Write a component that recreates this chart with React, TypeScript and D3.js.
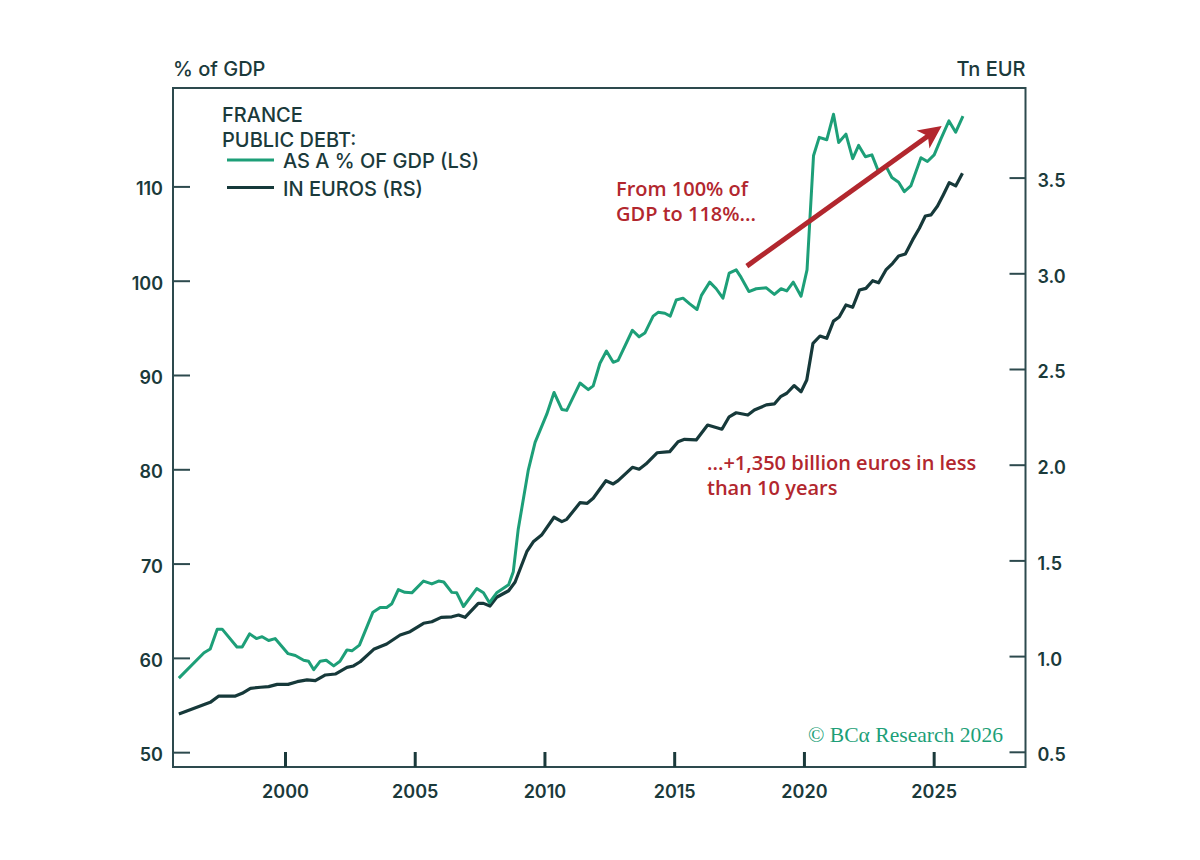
import React from "react";
import * as d3 from "d3";

const xTickYears = [2000, 2005, 2010, 2015, 2020, 2025];
const leftTicks = [50, 60, 70, 80, 90, 100, 110];
const rightTicks = [0.5, 1.0, 1.5, 2.0, 2.5, 3.0, 3.5];

// Public debt as % of GDP (left scale): [decimal year, value]
const debtPctGdp: [number, number][] = [
  [1995.89, 57.9], [1996.86, 60.6], [1997.1, 61.0], [1997.37, 63.1], [1997.56, 63.1],
  [1998.13, 61.2], [1998.33, 61.2], [1998.62, 62.6], [1998.88, 62.1], [1999.1, 62.3],
  [1999.35, 61.9], [1999.6, 62.1], [2000.1, 60.5], [2000.38, 60.3], [2000.7, 59.8],
  [2000.89, 59.7], [2001.09, 58.8], [2001.34, 59.7], [2001.57, 59.8], [2001.86, 59.2],
  [2002.1, 59.7], [2002.37, 60.9], [2002.56, 60.8], [2002.85, 61.4], [2003.37, 64.9],
  [2003.65, 65.4], [2003.9, 65.4], [2004.1, 65.8], [2004.35, 67.3], [2004.6, 67.0],
  [2004.87, 66.95], [2005.32, 68.2], [2005.64, 67.9], [2005.9, 68.2], [2006.1, 68.1],
  [2006.41, 67.0], [2006.6, 66.95], [2006.86, 65.5], [2007.37, 67.4], [2007.63, 66.95],
  [2007.86, 65.9], [2008.14, 66.95], [2008.6, 67.8], [2008.78, 69.2], [2008.97, 73.7],
  [2009.36, 80.0], [2009.62, 82.9], [2010.07, 85.9], [2010.35, 88.2], [2010.65, 86.4],
  [2010.84, 86.3], [2011.35, 89.2], [2011.67, 88.5], [2011.86, 88.9], [2012.12, 91.3],
  [2012.37, 92.6], [2012.63, 91.4], [2012.82, 91.6], [2013.37, 94.8], [2013.63, 94.1],
  [2013.85, 94.5], [2014.17, 96.3], [2014.36, 96.7], [2014.62, 96.6], [2014.83, 96.3],
  [2015.06, 98.0], [2015.32, 98.2], [2015.58, 97.6], [2015.86, 97.0], [2016.03, 98.5],
  [2016.35, 99.9], [2016.6, 99.2], [2016.86, 98.2], [2017.1, 100.85], [2017.37, 101.2],
  [2017.56, 100.4], [2017.86, 98.9], [2018.14, 99.2], [2018.53, 99.3], [2018.84, 98.6],
  [2019.1, 99.2], [2019.32, 98.97], [2019.57, 99.9], [2019.87, 98.4], [2020.1, 101.2],
  [2020.35, 113.3], [2020.57, 115.25], [2020.86, 115.0], [2021.12, 117.7], [2021.32, 114.7],
  [2021.6, 115.6], [2021.86, 113.0], [2022.09, 114.4], [2022.35, 113.2], [2022.6, 113.4],
  [2022.86, 111.6], [2023.14, 112.2], [2023.37, 111.0], [2023.63, 110.5], [2023.85, 109.5],
  [2024.1, 110.1], [2024.49, 113.1], [2024.74, 112.7], [2025.0, 113.4], [2025.26, 115.1],
  [2025.57, 117.0], [2025.83, 115.8], [2026.11, 117.5],
];

// Public debt in trillion euros (right scale): [decimal year, value]
const debtEur: [number, number][] = [
  [1995.89, 0.70], [1997.1, 0.761], [1997.43, 0.794], [1998.07, 0.794], [1998.33, 0.808],
  [1998.65, 0.834], [1999.04, 0.84], [1999.35, 0.843], [1999.68, 0.855], [2000.1, 0.855],
  [2000.45, 0.869], [2000.83, 0.878], [2001.15, 0.874], [2001.54, 0.904], [2001.92, 0.909],
  [2002.37, 0.944], [2002.62, 0.951], [2002.88, 0.973], [2003.4, 1.038], [2003.9, 1.066],
  [2004.42, 1.113], [2004.8, 1.13], [2005.32, 1.174], [2005.64, 1.182], [2006.0, 1.205],
  [2006.41, 1.208], [2006.67, 1.217], [2006.92, 1.205], [2007.43, 1.278], [2007.63, 1.278],
  [2007.88, 1.264], [2008.14, 1.31], [2008.6, 1.344], [2008.85, 1.39], [2009.3, 1.548],
  [2009.55, 1.6], [2009.87, 1.635], [2010.35, 1.728], [2010.65, 1.705], [2010.84, 1.717],
  [2011.35, 1.804], [2011.63, 1.801], [2011.86, 1.827], [2012.35, 1.919], [2012.63, 1.902],
  [2012.82, 1.919], [2013.37, 1.989], [2013.63, 1.979], [2013.89, 2.006], [2014.32, 2.065],
  [2014.81, 2.071], [2015.13, 2.123], [2015.38, 2.135], [2015.83, 2.132], [2016.27, 2.21],
  [2016.82, 2.188], [2017.1, 2.253], [2017.37, 2.274], [2017.82, 2.262], [2018.07, 2.288],
  [2018.53, 2.315], [2018.84, 2.32], [2019.08, 2.358], [2019.32, 2.376], [2019.6, 2.416],
  [2019.87, 2.384], [2020.09, 2.445], [2020.33, 2.637], [2020.6, 2.675], [2020.86, 2.663],
  [2021.12, 2.753], [2021.34, 2.774], [2021.6, 2.837], [2021.86, 2.825], [2022.12, 2.915],
  [2022.37, 2.924], [2022.63, 2.964], [2022.86, 2.953], [2023.14, 3.02], [2023.4, 3.055],
  [2023.63, 3.093], [2023.89, 3.103], [2024.17, 3.177], [2024.43, 3.238], [2024.66, 3.302],
  [2024.88, 3.308], [2025.13, 3.354], [2025.35, 3.412], [2025.58, 3.476], [2025.83, 3.459],
  [2026.09, 3.525],
];

// Arrow annotation endpoints: [decimal year, % of GDP]
const arrowFrom: [number, number] = [2017.78, 101.6];
const arrowTo: [number, number] = [2025.29, 116.45];

const GREEN = "#1d9f78";
const DARK = "#16393a";
const RED = "#b2272e";
const AXIS = "#2d4a4e";
const TEXT = "#1b3a3b";

export default function App() {
  const L = 173, R = 1025.5, T = 88, B = 767;
  const x = d3.scaleLinear().domain([1995.665, 2028.52]).range([L, R]);
  const yL = d3.scaleLinear().domain([48.48, 120.49]).range([B, T]);
  const yR = d3.scaleLinear().domain([0.4232, 3.9707]).range([B, T]);

  const lineL = d3.line<[number, number]>().x((d) => x(d[0])).y((d) => yL(d[1]));
  const lineR = d3.line<[number, number]>().x((d) => x(d[0])).y((d) => yR(d[1]));

  const ax1 = x(arrowFrom[0]), ay1 = yL(arrowFrom[1]);
  const ax2 = x(arrowTo[0]), ay2 = yL(arrowTo[1]);
  const ang = Math.atan2(ay2 - ay1, ax2 - ax1);
  const ux = Math.cos(ang), uy = Math.sin(ang);
  const px = -uy, py = ux;
  const headLen = 23, headW = 11, notch = 6;
  const bx = ax2 - headLen * ux, by = ay2 - headLen * uy;
  const nx = ax2 - (headLen - notch) * ux, ny = ay2 - (headLen - notch) * uy;
  const head = `M${ax2},${ay2} L${bx + px * headW},${by + py * headW} L${nx},${ny} L${bx - px * headW},${by - py * headW} Z`;

  const sans = "Inter, 'Noto Sans', sans-serif";
  const annot = "'Open Sans', 'Noto Sans', sans-serif";

  return (
    <svg width={1200} height={860} style={{ position: "absolute", left: 0, top: 0, background: "#fff" }}>
      <rect x={0} y={0} width={1200} height={860} fill="#fff" />
      {/* axis titles */}
      <text x={L} y={76} fontFamily={sans} fontWeight={500} fontSize={20} fill={TEXT}>% of GDP</text>
      <text x={R} y={76} textAnchor="end" fontFamily={sans} fontWeight={500} fontSize={20} fill={TEXT}>Tn EUR</text>

      {/* lines */}
      <path d={lineR(debtEur) || ""} fill="none" stroke={DARK} strokeWidth={3.2} strokeLinejoin="round" />
      <path d={lineL(debtPctGdp) || ""} fill="none" stroke={GREEN} strokeWidth={3} strokeLinejoin="round" />

      {/* frame */}
      <rect x={L} y={T} width={R - L} height={B - T} fill="none" stroke={AXIS} strokeWidth={2} />

      {/* left ticks */}
      {leftTicks.map((v) => (
        <g key={"l" + v}>
          <line x1={L} x2={L + 17} y1={yL(v)} y2={yL(v)} stroke={AXIS} strokeWidth={2} />
          <text x={L - 10} y={yL(v) + 8.5} textAnchor="end" fontFamily={sans} fontWeight={600} fontSize={18} fill={TEXT}>{v}</text>
        </g>
      ))}
      {/* right ticks */}
      {rightTicks.map((v) => (
        <g key={"r" + v}>
          <line x1={R - 16} x2={R} y1={yR(v)} y2={yR(v)} stroke={AXIS} strokeWidth={2} />
          <text x={R + 12} y={yR(v) + 9} fontFamily={sans} fontWeight={600} fontSize={18} fill={TEXT}>{v.toFixed(1)}</text>
        </g>
      ))}
      {/* bottom ticks */}
      {xTickYears.map((v) => (
        <g key={"x" + v}>
          <line x1={x(v)} x2={x(v)} y1={B} y2={B - 15} stroke={TEXT} strokeWidth={3} />
          <text x={x(v)} y={798} textAnchor="middle" fontFamily={sans} fontWeight={600} fontSize={18} fill={TEXT}>{v}</text>
        </g>
      ))}

      {/* legend */}
      <text x={222} y={122} fontFamily={sans} fontWeight={500} fontSize={20} fill={TEXT}>FRANCE</text>
      <text x={222} y={147} fontFamily={sans} fontWeight={500} fontSize={20} fill={TEXT}>PUBLIC DEBT:</text>
      <line x1={227} x2={274} y1={160} y2={160} stroke={GREEN} strokeWidth={3} />
      <text x={283} y={167.5} fontFamily={sans} fontWeight={500} fontSize={20} fill={TEXT}>AS A % OF GDP (LS)</text>
      <line x1={227} x2={274} y1={187.5} y2={187.5} stroke={DARK} strokeWidth={3} />
      <text x={283} y={195.5} fontFamily={sans} fontWeight={500} fontSize={20} fill={TEXT}>IN EUROS (RS)</text>

      {/* annotations */}
      <text x={616} y={196} fontFamily={annot} fontWeight={600} fontSize={20} fill={RED}>From 100% of</text>
      <text x={616} y={221} fontFamily={annot} fontWeight={600} fontSize={20} fill={RED}>GDP to 118%...</text>
      <text x={707} y={470} fontFamily={annot} fontWeight={600} fontSize={20} fill={RED}>...+1,350 billion euros in less</text>
      <text x={707} y={495} fontFamily={annot} fontWeight={600} fontSize={20} fill={RED}>than 10 years</text>

      <line x1={ax1} y1={ay1} x2={nx + ux * 1} y2={ny + uy * 1} stroke={RED} strokeWidth={5} />
      <path d={head} fill={RED} />

      {/* copyright */}
      <text x={808} y={742} fontFamily="'Liberation Serif', 'DejaVu Serif', serif" fontSize={21} fill={GREEN} textLength={195} lengthAdjust="spacingAndGlyphs">© BCα Research 2026</text>
    </svg>
  );
}
